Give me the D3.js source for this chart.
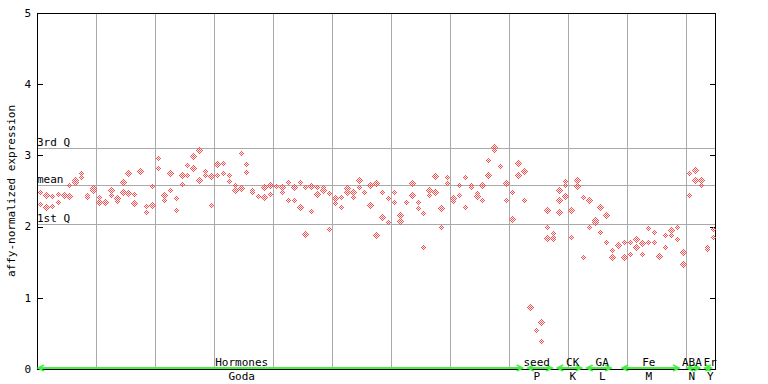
<!DOCTYPE html>
<html><head><meta charset="utf-8">
<script src="https://cdn.jsdelivr.net/npm/d3@7"></script>
<style>
html,body{margin:0;padding:0;background:#fff;}
text{font-family:"DejaVu Sans Mono",monospace;font-size:11px;fill:#000;}
</style></head>
<body><svg id="c" width="768" height="384"></svg>
<script>
// expression values per sample column (two replicates, third where present)
const rep1 = [2.48,2.44,2.43,2.46,2.45,2.59,2.65,2.75,2.45,2.54,2.41,2.34,2.52,2.40,2.62,2.75,2.46,2.78,2.29,2.57,
2.97,2.44,2.75,2.40,2.72,2.87,2.99,3.08,2.78,2.71,2.88,2.90,2.72,2.58,3.04,2.88,2.51,2.43,2.55,2.58,
2.57,2.56,2.62,2.56,2.62,2.56,2.57,2.55,2.55,2.47,2.40,2.41,2.54,2.49,2.66,2.49,2.59,2.61,2.49,2.40,
2.48,2.16,2.35,2.61,2.34,2.19,2.51,2.71,2.26,2.69,2.40,2.59,2.69,2.59,2.47,2.59,2.94,3.12,2.85,2.61,
2.48,2.90,2.78,0.87,0.55,0.66,2.23,1.91,2.51,2.64,2.24,2.65,2.41,2.38,2.09,2.27,2.16,1.67,1.74,1.78,
1.79,1.82,1.77,1.98,1.92,1.59,1.88,1.95,2.00,1.65,2.75,2.80,2.65,1.72,1.96];
const rep2 = [2.32,2.28,2.29,2.35,2.45,2.43,2.62,2.70,2.42,2.51,2.34,2.34,2.45,2.36,2.48,2.47,2.33,2.76,2.20,2.30,
2.82,2.37,2.52,2.24,2.60,2.72,2.83,2.65,2.72,2.30,2.72,2.75,2.64,2.52,2.54,2.76,2.48,2.43,2.42,2.46,
2.57,2.49,2.37,2.37,2.27,1.89,2.22,2.46,2.51,1.96,2.33,2.27,2.48,2.41,2.55,2.49,2.31,1.88,2.14,2.06,
2.34,2.08,2.35,2.44,2.26,1.72,2.45,2.48,1.99,2.61,2.36,2.45,2.27,2.56,2.43,2.37,2.73,3.08,2.85,2.37,
2.10,2.73,2.38,0.85,0.55,0.39,1.99,1.83,2.38,2.58,1.86,2.57,1.58,1.99,2.06,1.93,1.78,1.57,1.74,1.58,
1.62,1.72,1.61,1.79,1.78,1.59,1.71,1.88,1.82,1.47,2.44,2.65,2.58,1.68,1.85];
const rep3Cols = [86,87,88,89];
const rep3Vals = [1.84,1.85,2.21,2.43];

const yTicks = [0,1,2,3,4,5];
const refNames = ["3rd Q","mean","1st Q"];
const refVals = [3.10,2.58,2.03];

const groupNames = ["Hormones","seed","CK","GA","Fe","ABA","Fr"];
const groupSubs  = ["Goda","P","K","L","M","N","Y"];
const groupStart = [0,83,88,93,99,110,113];
const groupEnd   = [83,88,93,98,109.5,113,115];
const groupLabelAt = [34.7,84.7,90.8,95.8,103.7,111.0,114.1];

const nCols = rep1.length;
const svg = d3.select("#c");
const x = d3.scaleLinear().domain([0,nCols]).range([37,715.5]);
const y = d3.scaleLinear().domain([0,5]).range([369,13]);
const L = 37, R = 716;

const defs = svg.append("defs");
const pat = defs.append("pattern").attr("id","chk").attr("patternUnits","userSpaceOnUse")
  .attr("width",2).attr("height",2);
pat.append("rect").attr("x",0).attr("y",0).attr("width",1).attr("height",1).attr("fill","#ff4c4c");
pat.append("rect").attr("x",1).attr("y",1).attr("width",1).attr("height",1).attr("fill","#ff4c4c");

const g = svg.append("g").attr("shape-rendering","crispEdges");
// vertical grid every 10 columns
g.selectAll(".vg").data(d3.range(10,nCols,10)).enter().append("line")
  .attr("x1",d=>Math.round(x(d))+0.5).attr("x2",d=>Math.round(x(d))+0.5)
  .attr("y1",13).attr("y2",369).attr("stroke","#aaaaaa");
// reference lines
g.selectAll(".rl").data(refVals).enter().append("line")
  .attr("x1",L).attr("x2",R).attr("y1",d=>Math.round(y(d))+0.5).attr("y2",d=>Math.round(y(d))+0.5)
  .attr("stroke","#aaaaaa");
svg.selectAll(".rt").data(refNames).enter().append("text")
  .attr("x",L).attr("y",(d,i)=>Math.round(y(refVals[i]))-2).text(d=>d);

// frame
g.append("line").attr("x1",L+0.5).attr("x2",L+0.5).attr("y1",13).attr("y2",370).attr("stroke","#000");
g.append("line").attr("x1",R-0.5).attr("x2",R-0.5).attr("y1",13).attr("y2",370).attr("stroke","#000");
g.append("line").attr("x1",L).attr("x2",R).attr("y1",13.5).attr("y2",13.5).attr("stroke","#000");
g.append("line").attr("x1",L).attr("x2",R).attr("y1",369.5).attr("y2",369.5).attr("stroke","#000");
// ticks
g.selectAll(".tl").data(yTicks).enter().append("line")
  .attr("x1",L).attr("x2",L+6).attr("y1",d=>Math.round(y(d))+0.5).attr("y2",d=>Math.round(y(d))+0.5).attr("stroke","#000");
g.selectAll(".tr").data(yTicks).enter().append("line")
  .attr("x1",R-6).attr("x2",R).attr("y1",d=>Math.round(y(d))+0.5).attr("y2",d=>Math.round(y(d))+0.5).attr("stroke","#000");
svg.selectAll(".tt").data(yTicks).enter().append("text")
  .attr("x",31).attr("y",d=>y(d)).attr("dy","0.35em").attr("text-anchor","end").text(d=>d);

svg.append("text").attr("transform","translate(15,191) rotate(-90)").attr("text-anchor","middle")
  .text("affy-normalized expression");

// points
const pts = [];
rep1.forEach((v,i)=>pts.push([i,v]));
rep2.forEach((v,i)=>pts.push([i,v]));
rep3Cols.forEach((c,k)=>pts.push([c,rep3Vals[k]]));
const dia = (cx,cy)=>`M${cx},${cy-3.5}L${cx+3.5},${cy}L${cx},${cy+3.5}L${cx-3.5},${cy}Z`;
svg.append("g").attr("shape-rendering","crispEdges").selectAll("path").data(pts).enter().append("path")
  .attr("d",d=>dia(Math.round(x(d[0]+0.5))+0.5, Math.round(y(d[1]))+0.5))
  .attr("fill","url(#chk)");

// group segments
const green = "#44ee44";
const gg = svg.append("g");
groupNames.forEach((nm,i)=>{
  const x0 = x(groupStart[i])+1, x1 = x(groupEnd[i])-4, yy = 368;
  gg.append("line").attr("x1",x0).attr("x2",x1).attr("y1",yy).attr("y2",yy).attr("stroke",green).attr("stroke-width",2);
  gg.append("path").attr("d",`M${x0+6},${yy-3}L${x0},${yy}L${x0+6},${yy+3}`).attr("fill","none").attr("stroke",green).attr("stroke-width",1.5);
  gg.append("path").attr("d",`M${x1-6},${yy-3}L${x1},${yy}L${x1-6},${yy+3}`).attr("fill","none").attr("stroke",green).attr("stroke-width",1.5);
  svg.append("text").attr("x",x(groupLabelAt[i])).attr("y",366).attr("text-anchor","middle").text(nm);
  svg.append("text").attr("x",x(groupLabelAt[i])).attr("y",380).attr("text-anchor","middle").text(groupSubs[i]);
});
</script></body></html>
